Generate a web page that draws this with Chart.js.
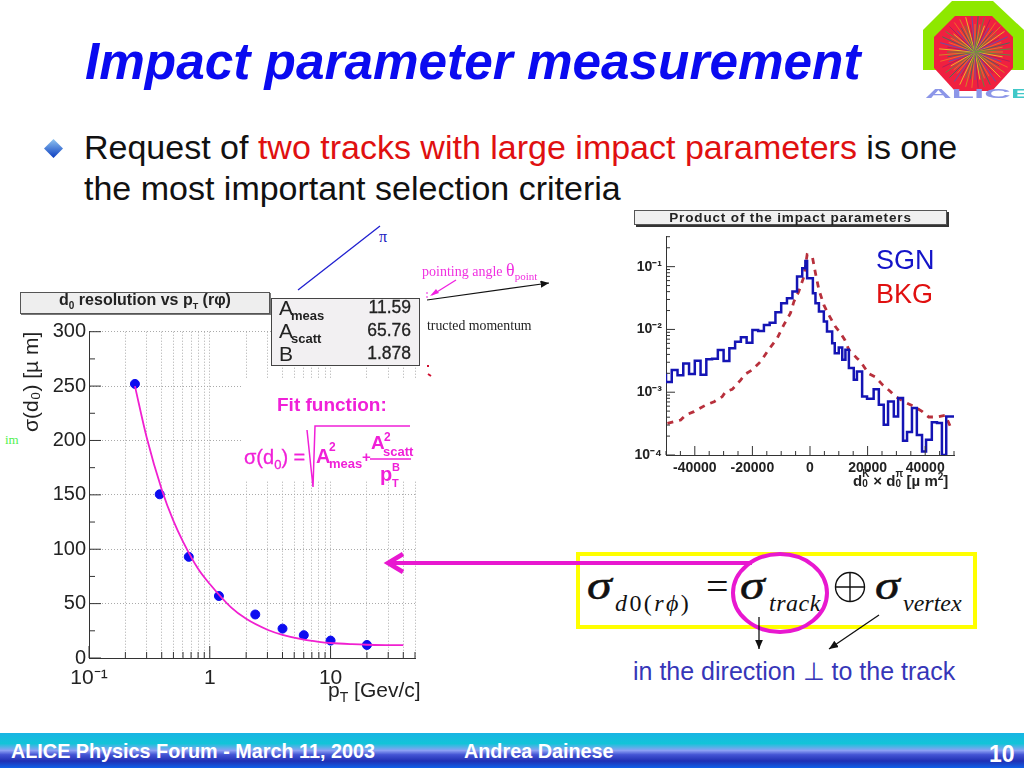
<!DOCTYPE html>
<html>
<head>
<meta charset="utf-8">
<script src="https://cdn.jsdelivr.net/npm/chart.js@4"></script>
<style>
html, body { margin: 0; padding: 0; background: #fff; }
#slide { position: relative; width: 1024px; height: 768px; overflow: hidden; font-family: "Liberation Sans", Arial, sans-serif; }
#slide canvas { position: absolute; }
.t { position: absolute; white-space: nowrap; line-height: 1; }
.serif { font-family: "Liberation Serif", "Times New Roman", serif; }
.fit { color: #f020d8; font-weight: bold; }
.box { position: absolute; box-sizing: border-box; border: 1px solid #444; background: #f0f0f0; }
.sigma { font-size: 40px; font-style: italic; color: #111; transform: scaleX(1.25); transform-origin: left; -webkit-text-stroke: 0.5px #111; }
sub, sup { line-height: 0; }
#footer { position: absolute; left: 0; top: 733px; width: 1024px; height: 35px;
  background: linear-gradient(#18b4e4 0, #12c4d8 30%, #8ca0f4 50%, #4454d4 62%, #2030b4 80%, #1060e8 100%); }
</style>
</head>
<body>
<div id="slide">
  <canvas id="resChart" style="left:20px;top:310px" width="410" height="390"></canvas>
  <canvas id="prodChart" style="left:620px;top:218px" width="350" height="270"></canvas>

  <div class="t" style="left:85px;top:36px;font-size:51.3px;font-weight:bold;font-style:italic;color:#0a0af0">Impact parameter measurement</div>
  <div style="position:absolute;left:44px;top:139px;width:19px;height:19px;"><svg width="19" height="19"><defs><linearGradient id="bl" x1="0" y1="0" x2="0" y2="1"><stop offset="0" stop-color="#8fc4f0"/><stop offset="1" stop-color="#0a3cc0"/></linearGradient></defs><polygon points="9.5,0 19,9.5 9.5,19 0,9.5" fill="url(#bl)"/></svg></div>
  <div class="t" style="left:84px;top:130px;font-size:34px;color:#111">Request of <span style="color:#e01010">two tracks with large impact parameters</span> is one</div>
  <div class="t" style="left:84px;top:171px;font-size:34px;color:#111">the most important selection criteria</div>

  <!-- bits of the sketch behind the plots -->
  <div class="t serif" style="left:379px;top:229px;font-size:16px;color:#2020c0">π</div>
  <div class="t serif" style="left:422px;top:261px;font-size:14px;color:#f030e0">pointing angle <span style="font-size:18px">θ</span><sub style="font-size:11px">point</sub></div>
  <div class="t serif" style="left:427px;top:319px;font-size:13.8px;color:#222">tructed momentum</div>
  <div class="t serif" style="left:5px;top:433px;font-size:13px;color:#50f050">im</div>

  <!-- left plot labels -->
  <div class="box" style="left:20px;top:292px;width:250px;height:22px;background:#eee;border:1px solid #555;box-shadow:1px 1px 0 #777"></div>
  <div class="t" style="left:20px;top:292px;width:250px;text-align:center;font-size:16px;font-weight:bold;color:#222">d<sub style="font-size:10px">0</sub> resolution vs p<sub style="font-size:9px">T</sub> (rφ)</div>
  <div class="box" style="left:271px;top:298px;width:149px;height:68px;background:#f2f0f2;border:1.5px solid #444"></div>
  <div class="t" style="left:279px;top:297px;font-size:21px;color:#222">A<sub style="font-size:13px;font-weight:bold;margin-left:-2px">meas</sub></div>
  <div class="t" style="left:279px;top:320px;font-size:21px;color:#222">A<sub style="font-size:13px;font-weight:bold;margin-left:-2px">scatt</sub></div>
  <div class="t" style="left:279px;top:343px;font-size:21px;color:#222">B</div>
  <div class="t" style="right:613px;top:299px;font-size:17.5px;color:#222;-webkit-text-stroke:0.3px #222">11.59</div>
  <div class="t" style="right:613px;top:322px;font-size:17.5px;color:#222;-webkit-text-stroke:0.3px #222">65.76</div>
  <div class="t" style="right:613px;top:345px;font-size:17.5px;color:#222;-webkit-text-stroke:0.3px #222">1.878</div>

  <!-- white patch behind the fit formula -->
  <div style="position:absolute;left:243px;top:378px;width:175px;height:102px;background:#fff"></div>
  <div class="t fit" style="left:277px;top:395px;font-size:19px">Fit function:</div>
  <div class="t fit" style="left:244px;top:447px;font-size:20px;font-weight:normal;-webkit-text-stroke:0.3px #f020d8">σ(d<sub style="font-size:13px">0</sub>) =</div>
  <div class="t fit" style="left:316px;top:446px;font-size:20px">A</div>
  <div class="t fit" style="left:329px;top:441px;font-size:12px">2</div>
  <div class="t fit" style="left:329px;top:457px;font-size:13px">meas</div>
  <div class="t fit" style="left:362px;top:449px;font-size:15px">+</div>
  <div class="t fit" style="left:371px;top:433px;font-size:19px">A</div>
  <div class="t fit" style="left:384px;top:431px;font-size:12px">2</div>
  <div class="t fit" style="left:383px;top:445px;font-size:13px">scatt</div>
  <div class="t fit" style="left:380px;top:464px;font-size:20px">p</div>
  <div class="t fit" style="left:392px;top:462px;font-size:11px">B</div>
  <div class="t fit" style="left:392px;top:478px;font-size:11px">T</div>

  <div class="t" style="left:328px;top:679px;font-size:21px;color:#222">p<sub style="font-size:14px">T</sub> [Gev/c]</div>

  <!-- right plot labels -->
  <div class="box" style="left:634px;top:210px;width:313px;height:15px;background:#f0f0f0;border:1px solid #555;box-shadow:2px 2px 0 #333"></div>
  <div class="t" style="left:634px;top:211px;width:313px;text-align:center;font-size:13.5px;letter-spacing:0.85px;font-weight:bold;color:#222">Product of the impact parameters</div>
  <div class="t" style="left:876px;top:247px;font-size:27px;color:#1414c8">SGN</div>
  <div class="t" style="left:876px;top:281px;font-size:27px;color:#e01010">BKG</div>
  <div class="t" style="left:853px;top:473px;font-size:15px;font-weight:bold;color:#222">d<span style="display:inline-block;font-size:10px;vertical-align:-1px;width:7px;position:relative"><span style="position:absolute;top:-10px">K</span>0</span> × d<span style="display:inline-block;font-size:10px;vertical-align:-1px;width:7px;position:relative"><span style="position:absolute;top:-10px">π</span>0</span> [µ m<sup style="font-size:10px">2</sup>]</div>

  <!-- sigma formula -->
  <div class="t serif sigma" style="left:587px;top:566px">σ</div>
  <div class="t serif" style="left:615px;top:591px;font-size:24px;color:#111;letter-spacing:2.4px"><i>d</i>0(<i>rϕ</i>)</div>
  <div class="t serif" style="left:706px;top:567px;font-size:40px;color:#111">=</div>
  <div class="t serif sigma" style="left:740px;top:566px">σ</div>
  <div class="t serif" style="left:769px;top:591px;font-size:24px;font-style:italic;color:#111;letter-spacing:0.5px">track</div>
  <div class="t serif sigma" style="left:875px;top:566px">σ</div>
  <div class="t serif" style="left:903px;top:591px;font-size:24px;font-style:italic;color:#111">vertex</div>
  <div class="t" style="left:633px;top:659px;font-size:25px;color:#3636b8">in the direction ⊥ to the track</div>

  <!-- footer -->
  <div id="footer"></div>
  <div class="t" style="left:11px;top:742px;font-size:19.8px;font-weight:bold;color:#fff">ALICE Physics Forum - March 11, 2003</div>
  <div class="t" style="left:464px;top:742px;font-size:19.8px;font-weight:bold;color:#fff">Andrea Dainese</div>
  <div class="t" style="left:989px;top:743px;font-size:23px;font-weight:bold;color:#fff">10</div>

  <!-- lines, arrows and logo -->
  <svg id="marks" width="1024" height="768" style="position:absolute;left:0;top:0;pointer-events:none">
    <defs>
      <marker id="ah" markerWidth="8" markerHeight="8" refX="7" refY="3" orient="auto"><path d="M0,0 L7,3 L0,6 z" fill="#111"/></marker>
    </defs>
    <line x1="298" y1="290" x2="380" y2="226" stroke="#2020d0" stroke-width="1.3"/>
    <line x1="427" y1="300" x2="549" y2="283" stroke="#111" stroke-width="1.2" marker-end="url(#ah)"/>
    <line x1="456" y1="280" x2="432" y2="295" stroke="#f020e0" stroke-width="1.3"/>
    <polygon points="430,296 436,289 439,293" fill="#f020e0"/>
    <line x1="427" y1="292" x2="427" y2="300" stroke="#f020e0" stroke-width="1" stroke-dasharray="2,2"/>
    <path d="M428,365 v2 M428,374 l3,2" stroke="#d01030" stroke-width="2" fill="none"/>
    <path d="M307,430 L313,487 L315,426 L410,426" stroke="#f020d8" stroke-width="1.5" fill="none"/>
    <line x1="370" y1="459" x2="411" y2="459" stroke="#f020d8" stroke-width="1.5"/>

    <rect x="578" y="554" width="397" height="73" fill="none" stroke="#ffff00" stroke-width="4"/>
    <line x1="392" y1="563" x2="752" y2="563" stroke="#e818d0" stroke-width="4"/>
    <path d="M403,554 L388,563 L403,572" stroke="#e818d0" stroke-width="4.5" fill="none"/>
    <ellipse cx="780" cy="593" rx="47" ry="39" fill="none" stroke="#e818d0" stroke-width="4"/>
    <circle cx="850" cy="587" r="14.5" fill="none" stroke="#111" stroke-width="1.4"/>
    <path d="M835.5,587 H864.5 M850,572.5 V601.5" stroke="#111" stroke-width="1.4"/>
    <line x1="759" y1="617" x2="759" y2="649" stroke="#111" stroke-width="1.3" marker-end="url(#ah)"/>
    <line x1="879" y1="615" x2="829" y2="649" stroke="#111" stroke-width="1.3" marker-end="url(#ah)"/>

    <polygon points="952,1 993,1 1024,30 1024,70 923,70 923,30" fill="#8ee800"/>
    <polygon points="955,16 992,16 1013,37 1013,68 992,91 955,91 934,68 934,37" fill="#f02040"/>
    <g id="rays"></g>
    <text x="925" y="98" font-family="Liberation Sans" font-weight="bold" font-size="13" fill="#8c96e8" textLength="86" lengthAdjust="spacingAndGlyphs">ALIC</text>
    <text x="1011" y="98" font-family="Liberation Sans" font-weight="bold" font-size="13" fill="#40c8c8" textLength="20" lengthAdjust="spacingAndGlyphs">E</text>
  </svg>
</div>

<script>
// d0 resolution plot
const ptValues = [0.24, 0.385, 0.67, 1.19, 2.38, 4, 6, 10, 20];
const resValues = [252, 150.5, 93, 57, 40, 27, 21, 16, 12];
const fitPt = [0.24, 0.3, 0.4, 0.5, 0.6, 0.8, 1, 1.5, 2, 3, 4, 6, 8, 10, 15, 20, 30, 40];
const fitValues = [250, 203, 155, 126, 107, 82, 68, 46.5, 36, 26, 21.3, 16.9, 14.9, 13.8, 12.7, 12.2, 11.9, 11.8];
const ptTicks = [0.1, 0.2, 0.3, 0.4, 0.5, 0.6, 0.7, 0.8, 0.9, 1, 2, 3, 4, 5, 6, 7, 8, 9, 10, 20, 30, 40, 50];
const ptLabels = { 0.1: "10\u207B\u00B9", 1: "1", 10: "10" };
const resTicks = [0, 25, 50, 75, 100, 125, 150, 175, 200, 225, 250, 275, 300];

// product of the impact parameters, left edge of each step and its height
const sgnEdges = [-50000, -48000, -46000, -44000, -42000, -40000, -38000, -36000, -34000, -32000, -30000, -28000, -26000, -24000, -22000, -20000, -18000, -16000, -14000, -12000, -10000, -8000, -6100, -4500, -2700, -1600, -1000, 1000, 1900, 3100, 4800, 5900, 7700, 8600, 10000, 11200, 12300, 13500, 15200, 16300, 18100, 19800, 22100, 23900, 25600, 27100, 29100, 30600, 32300, 33700, 35400, 37100, 38900, 40300, 42300, 44100, 45800, 47300, 48900, 50000];
const sgnValues = [0.00205, 0.00145, 0.00226, 0.00186, 0.00288, 0.00195, 0.00318, 0.0019, 0.00334, 0.00342, 0.0047, 0.00314, 0.005, 0.00638, 0.00748, 0.00615, 0.0098, 0.00944, 0.0118, 0.0128, 0.0188, 0.0262, 0.0314, 0.0401, 0.0695, 0.094, 0.123, 0.0653, 0.0378, 0.0262, 0.0193, 0.0134, 0.00927, 0.00604, 0.00419, 0.00515, 0.00328, 0.00473, 0.00242, 0.00158, 0.00214, 0.000857, 0.000787, 0.00112, 0.000632, 0.000304, 0.000714, 0.000412, 0.000807, 0.000169, 0.000232, 0.00056, 0.000209, 0.000114, 0.000175, 0.000331, 0.000323, 0.0001, 0.000412, 0.000412];
const bkgX = [-49500, -44900, -43200, -40300, -36200, -33300, -30500, -29300, -27000, -24100, -22400, -20100, -17200, -14300, -11400, -9100, -6800, -5600, -3900, -2100, -1000, 800, 1900, 3100, 4800, 6500, 8800, 10600, 12100, 13500, 16300, 17500, 20400, 22700, 25200, 27900, 29600, 32500, 36000, 38900, 41200, 44100, 47000, 48700];
const bkgValues = [0.000319, 0.000361, 0.000433, 0.00049, 0.000625, 0.000706, 0.000849, 0.00102, 0.00111, 0.00156, 0.00195, 0.00226, 0.00306, 0.00482, 0.00721, 0.0118, 0.0181, 0.0277, 0.0401, 0.0695, 0.155, 0.145, 0.0785, 0.0427, 0.0246, 0.0171, 0.0111, 0.0087, 0.0068, 0.00473, 0.00349, 0.00309, 0.00197, 0.00174, 0.00131, 0.00103, 0.000857, 0.000714, 0.000595, 0.000495, 0.000403, 0.000403, 0.000428, 0.000286];
const prodYTicks = [0.0001, 0.0002, 0.0003, 0.0004, 0.0005, 0.0006, 0.0007, 0.0008, 0.0009, 0.001, 0.002, 0.003, 0.004, 0.005, 0.006, 0.007, 0.008, 0.009, 0.01, 0.02, 0.03, 0.04, 0.05, 0.06, 0.07, 0.08, 0.09, 0.1, 0.2, 0.3];
const prodYLabels = { 0.0001: "10\u207B\u2074", 0.001: "10\u207B\u00B3", 0.01: "10\u207B\u00B2", 0.1: "10\u207B\u00B9" };
const prodXLabels = [-40000, -20000, 0, 20000, 40000];

// logo tracks
const rayColors = ["#c8a020", "#40a040", "#e8e020", "#a02060", "#4060c0", "#f08020", "#208060"];
const rays = document.getElementById("rays");
for (let i = 0; i < 72; i++) {
  let a = i * 5 * Math.PI / 180, r = i % 2 ? 36 : 28;
  let l = document.createElementNS("http://www.w3.org/2000/svg", "line");
  l.setAttribute("x1", 975); l.setAttribute("y1", 52);
  l.setAttribute("x2", 975 + r * Math.cos(a)); l.setAttribute("y2", 52 + r * Math.sin(a));
  l.setAttribute("stroke", rayColors[i % rayColors.length]);
  l.setAttribute("stroke-width", "0.8");
  rays.appendChild(l);
}

function toPoints(xs, ys) {
  return xs.map(function (x, i) { return { x: x, y: ys[i] }; });
}

// root style ticks, drawn inward from the axis lines
function inwardTicks(xMajor, yMajor, longLen, shortLen) {
  return {
    id: "inwardTicks",
    afterDatasetsDraw(chart) {
      let c = chart.ctx, a = chart.chartArea;
      c.save();
      c.strokeStyle = "#333";
      c.lineWidth = 1;
      c.beginPath();
      chart.scales.x.ticks.forEach(function (t) {
        let px = chart.scales.x.getPixelForValue(t.value);
        c.moveTo(px, a.bottom);
        c.lineTo(px, a.bottom - (xMajor(t.value) ? longLen : shortLen));
      });
      chart.scales.y.ticks.forEach(function (t) {
        let py = chart.scales.y.getPixelForValue(t.value);
        c.moveTo(a.left, py);
        c.lineTo(a.left + (yMajor(t.value) ? longLen : shortLen), py);
      });
      c.stroke();
      c.restore();
    }
  };
}

Chart.defaults.font.family = "'Liberation Sans'";
Chart.defaults.animation = false;
Chart.defaults.responsive = false;

new Chart(document.getElementById("resChart"), {
  type: "scatter",
  data: {
    datasets: [
      { data: toPoints(fitPt, fitValues), showLine: true, borderColor: "#f020d0", borderWidth: 1.8, pointRadius: 0, cubicInterpolationMode: "monotone" },
      { data: toPoints(ptValues, resValues), backgroundColor: "#0c0cf0", borderColor: "#0c0cf0", pointRadius: 4.5 }
    ]
  },
  options: {
    layout: { padding: { top: 21.7, right: 15, left: 0, bottom: 0 } },
    plugins: { legend: { display: false }, tooltip: { enabled: false } },
    scales: {
      x: {
        type: "logarithmic", min: 0.1, max: 50,
        afterBuildTicks(s) { s.ticks = ptTicks.map(function (v) { return { value: v }; }); },
        afterFit(s) { s.height = 42; },
        grid: { color: "#aaa", lineWidth: 1, drawTicks: false },
        border: { color: "#333", dash: [1, 2] },
        ticks: { autoSkip: false, maxRotation: 0, padding: 8, color: "#222", font: { size: 21 }, callback(v) { return ptLabels[v] || ""; } }
      },
      y: {
        min: 0, max: 300,
        afterBuildTicks(s) { s.ticks = resTicks.map(function (v) { return { value: v }; }); },
        afterFit(s) { s.width = 69; },
        grid: { drawTicks: false, lineWidth: 1, color(c) { return c.tick.value % 50 == 0 ? "#aaa" : "transparent"; } },
        border: { color: "#333", dash: [1, 2] },
        title: { display: true, text: "\u03C3(d\u2080) [\u00B5 m]", align: "end", color: "#222", font: { size: 21 }, padding: 0 },
        ticks: { autoSkip: false, padding: 3, color: "#222", font: { size: 20 }, callback(v) { return v % 50 == 0 ? String(v) : ""; } }
      }
    }
  },
  plugins: [inwardTicks(function (v) { return v == 0.1 || v == 1 || v == 10; }, function (v) { return v % 50 == 0; }, 12, 6)]
});

new Chart(document.getElementById("prodChart"), {
  type: "scatter",
  data: {
    datasets: [
      { data: toPoints(sgnEdges, sgnValues), showLine: true, stepped: "after", borderColor: "#1414b4", borderWidth: 2.5, pointRadius: 0 },
      { data: toPoints(bkgX, bkgValues), showLine: true, borderColor: "#b8303c", borderWidth: 2.8, borderDash: [6, 6], pointRadius: 0 }
    ]
  },
  options: {
    layout: { padding: { top: 18.7, right: 16, left: 0, bottom: 0 } },
    plugins: { legend: { display: false }, tooltip: { enabled: false } },
    scales: {
      x: {
        type: "linear", min: -50000, max: 50000,
        afterFit(s) { s.height = 33; },
        grid: { display: false, drawTicks: false },
        border: { color: "#333" },
        ticks: { stepSize: 5000, autoSkip: false, maxRotation: 0, padding: 5, color: "#222", font: { size: 14, weight: "bold" }, callback(v) { return prodXLabels.includes(v) ? String(v) : ""; } }
      },
      y: {
        type: "logarithmic", min: 0.0001, max: 0.3,
        afterBuildTicks(s) { s.ticks = prodYTicks.map(function (v) { return { value: v }; }); },
        afterFit(s) { s.width = 46; },
        grid: { display: false, drawTicks: false },
        border: { color: "#333" },
        ticks: { autoSkip: false, padding: 4, color: "#222", font: { size: 14, weight: "bold" }, callback(v) { return prodYLabels[v] || ""; } }
      }
    }
  },
  plugins: [inwardTicks(function (v) { return v % 20000 == 0; }, function (v) { return prodYLabels[v] !== undefined; }, 9, 4)]
});
</script>
</body>
</html>
